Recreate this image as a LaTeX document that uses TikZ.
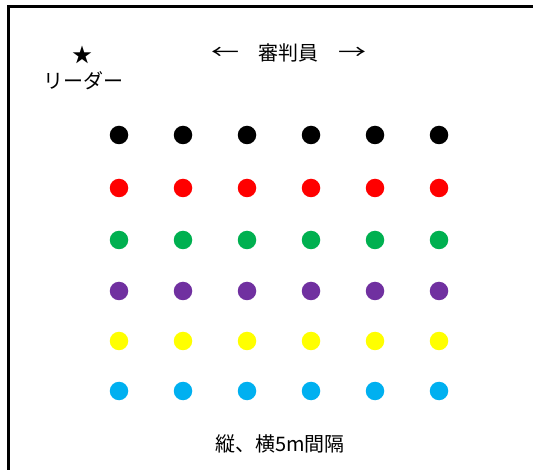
\documentclass[tikz,border=0pt]{standalone}
\usepackage{fontspec}
\newfontfamily\jpfont{Noto Sans CJK JP}
\definecolor{dred}{HTML}{FF0000}
\definecolor{dgreen}{HTML}{00B050}
\definecolor{dpurple}{HTML}{7030A0}
\definecolor{dyellow}{HTML}{FFFF00}
\definecolor{dblue}{HTML}{00B0F0}
\begin{document}
\begin{tikzpicture}[x=1pt,y=-1pt,
  dot/.style={circle,inner sep=0pt,minimum size=18.5pt},
  lbl/.style={inner sep=0pt,font=\jpfont\fontsize{20}{20}\selectfont}]
\useasboundingbox (0,0) rectangle (533,470);
\fill[white] (0,0) rectangle (533,470);
\draw[line width=3pt] (8.8,470) -- (8.8,6.5) -- (533,6.5);
\node[lbl] (star) at (82,55) {★};
\node[lbl] (leader) at (83,81) {リーダー};
\node[lbl,xscale=1.4] (larr) at (225,53) {←};
\node[lbl] (judge) at (288,53) {審判員};
\node[lbl,xscale=1.4] (rarr) at (352,53) {→};
\node[lbl] (note) at (280,444) {縦、横5m間隔};
\foreach \c [count=\r from 0] in {black,dred,dgreen,dpurple,dyellow,dblue}{
  \pgfmathsetmacro{\yy}{{135,188,240,291,341,391}[\r]}
  \foreach \i in {0,...,5}{
    \node[dot,fill=\c] (d\r\i) at (119+64*\i,\yy) {};
  }
}
\end{tikzpicture}
\end{document}
